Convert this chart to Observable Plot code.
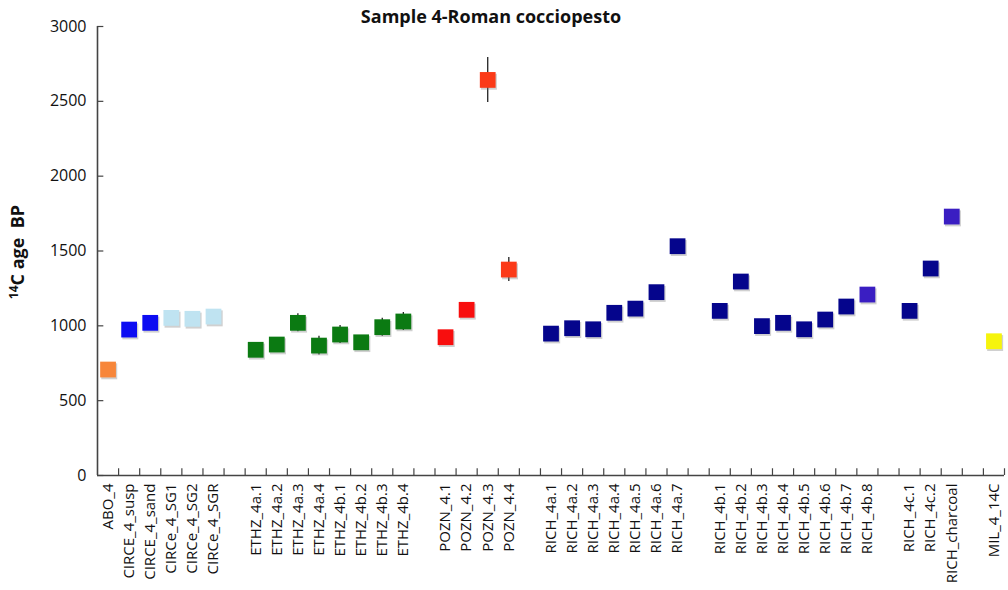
<!DOCTYPE html>
<html><head><meta charset="utf-8">
<script src="https://cdn.jsdelivr.net/npm/d3@7"></script>
<script src="https://cdn.jsdelivr.net/npm/@observablehq/plot@0.6"></script>
<style>body{margin:0;background:#fff}#chart svg{display:block}</style>
</head><body><div id="chart"></div>
<script>
const title = "Sample 4-Roman cocciopesto";

const labels = [
  "ABO_4","CIRCE_4_susp","CIRCE_4_sand","CIRCe_4_SG1","CIRCe_4_SG2","CIRCe_4_SGR",
  "ETHZ_4a.1","ETHZ_4a.2","ETHZ_4a.3","ETHZ_4a.4","ETHZ_4b.1","ETHZ_4b.2","ETHZ_4b.3","ETHZ_4b.4",
  "POZN_4.1","POZN_4.2","POZN_4.3","POZN_4.4",
  "RICH_4a.1","RICH_4a.2","RICH_4a.3","RICH_4a.4","RICH_4a.5","RICH_4a.6","RICH_4a.7",
  "RICH_4b.1","RICH_4b.2","RICH_4b.3","RICH_4b.4","RICH_4b.5","RICH_4b.6","RICH_4b.7","RICH_4b.8",
  "RICH_4c.1","RICH_4c.2","RICH_charcoal",
  "MIL_4_14C"
];
const ages = [
  708, 975, 1020, 1053, 1047, 1062,
  840, 875, 1020, 868, 942, 890, 991, 1029,
  924, 1107, 2643, 1376,
  948, 984, 977, 1087, 1115, 1225, 1532,
  1100, 1296, 998, 1020, 977, 1042, 1129, 1209,
  1100, 1383, 1730,
  897
];
const errors = [
  30, 30, 30, 30, 30, 30,
  40, 40, 60, 63, 60, 40, 60, 60,
  40, 40, 150, 80,
  30, 30, 30, 30, 30, 30, 30,
  30, 30, 30, 30, 30, 30, 30, 30,
  30, 30, 30,
  30
];
const series = [
  "ABO","CIRCE","CIRCE","CIRCe","CIRCe","CIRCe",
  "ETHZ","ETHZ","ETHZ","ETHZ","ETHZ","ETHZ","ETHZ","ETHZ",
  "POZN1","POZN1","POZN2","POZN2",
  "RICH","RICH","RICH","RICH","RICH","RICH","RICH",
  "RICH","RICH","RICH","RICH","RICH","RICH","RICH","RICH2",
  "RICH","RICH","RICH2",
  "MIL"
];
const blockSizes = [6, 8, 4, 7, 8, 3, 1];
const seriesNames = ["ABO","CIRCE","CIRCe","ETHZ","POZN1","POZN2","RICH","RICH2","MIL"];
const seriesColors = ["#f7863a","#0c0cf2","#bfe3f1","#0b7a12","#f80e0e","#fb3a18","#05058c","#3a1ec2","#f6f40c"];
const yTicks = [0, 500, 1000, 1500, 2000, 2500, 3000];

// build table: one empty slot between blocks
const data = [];
let idx = 0;
blockSizes.forEach((n, b) => {
  for (let k = 0; k < n; k++, idx++) {
    data.push({label: labels[idx], age: ages[idx], err: errors[idx], series: series[idx], pos: idx + b + 0.5});
  }
});
const nSlots = labels.length + blockSizes.length - 1;
const labelAt = new Map(data.map(d => [d.pos, d.label]));

const axisColor = "#444";
const plot = Plot.plot({
  width: 1008,
  height: 590,
  marginLeft: 97,
  marginRight: 4,
  marginTop: 26,
  marginBottom: 115,
  style: {fontFamily: "'Open Sans', Lato, sans-serif", background: "#fff", color: "#111"},
  x: {type: "linear", domain: [0, nSlots]},
  y: {domain: [0, 3000]},
  color: {domain: seriesNames, range: seriesColors},
  marks: [
    Plot.ruleX(d3.range(1, nSlots + 1), {y1: 0, y2: 45, stroke: axisColor, strokeWidth: 1.2}),
    Plot.ruleY(yTicks, {x1: 0, x2: 0.3, stroke: axisColor, strokeWidth: 1.2}),
    Plot.ruleY([0], {x1: 0, x2: nSlots, stroke: axisColor, strokeWidth: 1.6}),
    Plot.ruleX([0], {y1: 0, y2: 3000, stroke: axisColor, strokeWidth: 1.6}),
    Plot.ruleX(data, {x: "pos", y1: d => d.age - d.err, y2: d => d.age + d.err, stroke: "#222", strokeWidth: 1.3}),
    Plot.dot(data, {x: "pos", y: "age", symbol: "square", r: 9, fill: "#777", fillOpacity: 0.35, dx: 1.2, dy: 1.8}),
    Plot.dot(data, {x: "pos", y: "age", symbol: "square", r: 8.9, fill: "series"}),
    Plot.axisX(data.map(d => d.pos), {tickFormat: d => labelAt.get(d), tickRotate: -90, tickSize: 0, tickPadding: 8, fontSize: 15, label: null}),
    Plot.axisY(yTicks, {tickFormat: d => String(d), tickSize: 0, tickPadding: 11, fontSize: 16, label: null}),
    Plot.text([title], {frameAnchor: "top", dx: -60, dy: -9, lineAnchor: "middle", fontSize: 18, fontWeight: "bold", fill: "#111"})
  ]
});

const svg = d3.select(plot);
const yl = svg.append("text")
  .attr("transform", "translate(24,252) rotate(-90)")
  .attr("text-anchor", "middle")
  .attr("font-size", 18)
  .attr("font-weight", "bold")
  .attr("fill", "#111");
yl.append("tspan").attr("font-size", 12).attr("dy", -6).text("14");
yl.append("tspan").attr("dy", 6).text("C age\u00a0\u00a0BP");

document.getElementById("chart").append(plot);
</script>
</body></html>
